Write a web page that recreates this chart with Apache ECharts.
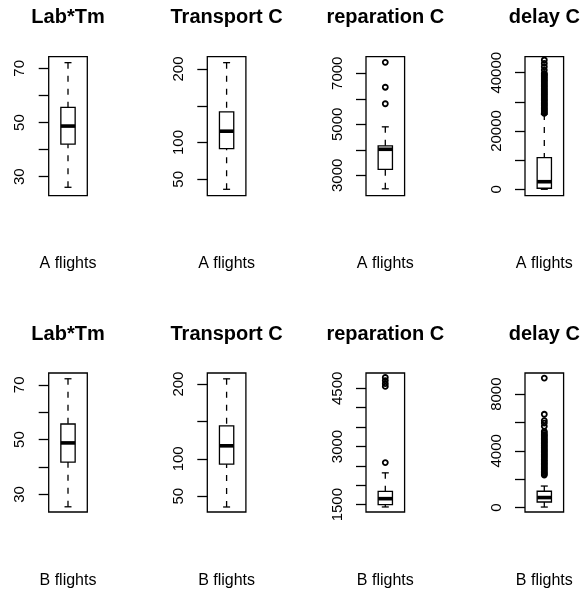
<!DOCTYPE html>
<html><head><meta charset="utf-8">
<script src="https://cdn.jsdelivr.net/npm/echarts@6/dist/echarts.min.js"></script>
<style>html,body{margin:0;padding:0;background:#fff}#c{width:581px;height:595px}</style>
</head><body><div id="c"></div>
<script>
// ---------------- data ----------------
const panelTitles = ['Lab*Tm', 'Transport C', 'reparation C', 'delay C'];
const groupNames = ['A flights', 'B flights'];

// [lower whisker, Q1, median, Q3, upper whisker]
const statsLabA   = [26.1, 42.0, 48.7, 55.6, 72.1];
const statsTransA = [36.4, 91.8, 115.4, 141.8, 208.6];
const statsRepA   = [2470, 3234, 4020, 4156, 4900];
const statsDelayA = [0, 350, 2600, 10900, 25800];
const statsLabB   = [25.5, 41.8, 48.8, 55.7, 72.2];
const statsTransB = [35.6, 92.9, 117.4, 144.0, 207.0];
const statsRepB   = [1440, 1500, 1654, 1840, 2320];
const statsDelayB = [40, 396, 708, 1154, 1520];

// outliers
const outLabA = [];
const outTransA = [];
const outRepA = [5805, 6453, 7430];
const outDelayA = [26050, 26480, 26870, 27330, 27720, 28190, 28640, 29010, 29470, 29900,
  30380, 30760, 31250, 31640, 32100, 32530, 32960, 33420, 33810, 34290, 34700, 35150,
  35560, 36030, 36440, 36910, 37300, 37780, 38170, 38650, 39040, 39520, 39760, 40900,
  42060, 43200, 44360];
const outLabB = [];
const outTransB = [];
const outRepB = [2585, 4550, 4620, 4700, 4780];
const outDelayB = [2300, 2370, 2470, 2560, 2660, 2740, 2850, 2930, 3040, 3110, 3220, 3300,
  3390, 3500, 3580, 3690, 3770, 3860, 3960, 4050, 4140, 4230, 4340, 4410, 4520, 4600,
  4700, 4790, 4880, 4980, 5070, 5150, 5260, 5370, 5730, 5960, 6130, 6580, 9130];

// axis ticks and labels
const ticksLab = [30, 40, 50, 60, 70];
const labelsLab = [30, 50, 70];
const ticksTrans = [50, 100, 150, 200];
const labelsTrans = [50, 100, 200];
const ticksRepA = [3000, 4000, 5000, 6000, 7000];
const labelsRepA = [3000, 5000, 7000];
const ticksDelayA = [0, 10000, 20000, 30000, 40000];
const labelsDelayA = [0, 20000, 40000];
const ticksRepB = [1500, 2000, 2500, 3000, 3500, 4000, 4500];
const labelsRepB = [1500, 3000, 4500];
const ticksDelayB = [0, 2000, 4000, 6000, 8000];
const labelsDelayB = [0, 4000, 8000];

// axis limits [min, max]
const limLabA = [23.0, 74.3], limTransA = [27.7, 216.7], limRepA = [2200, 7650], limDelayA = [-2200, 45500];
const limLabB = [23.6, 74.3], limTransB = [28.9, 214.8], limRepB = [1310, 4896], limDelayB = [-310, 9490];

// ---------------- layout / style ----------------
const PANEL_LEFT = [48.7, 207.3, 366, 525];
const PANEL_TOP = [56.7, 373];
const PANEL_W = 38.6, PANEL_H = 139;
const TITLE_Y = [17.5, 334];
const XLAB_Y = [263.8, 581];
const FONT = "'Liberation Sans', Arial, Helvetica, sans-serif";
const BOX_W = 14.3, CAP_W = 7, MED_LW = 3.6, LW = 1.3;

const rows = [
  { name: groupNames[0], stats: [statsLabA, statsTransA, statsRepA, statsDelayA],
    outs: [outLabA, outTransA, outRepA, outDelayA],
    ticks: [ticksLab, ticksTrans, ticksRepA, ticksDelayA],
    labels: [labelsLab, labelsTrans, labelsRepA, labelsDelayA],
    lims: [limLabA, limTransA, limRepA, limDelayA] },
  { name: groupNames[1], stats: [statsLabB, statsTransB, statsRepB, statsDelayB],
    outs: [outLabB, outTransB, outRepB, outDelayB],
    ticks: [ticksLab, ticksTrans, ticksRepB, ticksDelayB],
    labels: [labelsLab, labelsTrans, labelsRepB, labelsDelayB],
    lims: [limLabB, limTransB, limRepB, limDelayB] }
];

function renderBox(params, api) {
  const x = api.value(0);
  const pts = [1, 2, 3, 4, 5].map(k => api.coord([x, api.value(k)]));
  const cx = pts[0][0];
  const y = pts.map(p => p[1]);
  const solid = { stroke: '#000', lineWidth: LW, fill: null };
  const dash = { stroke: '#000', lineWidth: LW, lineDash: [6, 7], fill: null };
  return { type: 'group', children: [
    { type: 'line', shape: { x1: cx, y1: y[0], x2: cx, y2: y[1] }, style: dash },
    { type: 'line', shape: { x1: cx, y1: y[4], x2: cx, y2: y[3] }, style: dash },
    { type: 'line', shape: { x1: cx - CAP_W / 2, y1: y[0], x2: cx + CAP_W / 2, y2: y[0] }, style: solid },
    { type: 'line', shape: { x1: cx - CAP_W / 2, y1: y[4], x2: cx + CAP_W / 2, y2: y[4] }, style: solid },
    { type: 'rect', shape: { x: cx - BOX_W / 2, y: y[3], width: BOX_W, height: y[1] - y[3] },
      style: { fill: 'none', stroke: '#000', lineWidth: LW } },
    { type: 'line', shape: { x1: cx - BOX_W / 2, y1: y[2], x2: cx + BOX_W / 2, y2: y[2] },
      style: { stroke: '#000', lineWidth: MED_LW } }
  ]};
}

const grid = [], xAxis = [], yAxis = [], series = [], graphic = [];
rows.forEach((row, r) => {
  panelTitles.forEach((title, c) => {
    const i = r * 4 + c;
    grid.push({ left: PANEL_LEFT[c], top: PANEL_TOP[r], width: PANEL_W, height: PANEL_H,
      show: true, borderColor: '#000', borderWidth: LW, backgroundColor: 'transparent' });
    xAxis.push({ gridIndex: i, type: 'category', data: [row.name], show: false });
    yAxis.push({
      gridIndex: i, type: 'value', min: row.lims[c][0], max: row.lims[c][1],
      axisLine: { show: false }, splitLine: { show: false },
      axisTick: { show: true, inside: false, length: 10, customValues: row.ticks[c],
        lineStyle: { color: '#000', width: LW } },
      axisLabel: { customValues: row.labels[c], rotate: 90, margin: 21, color: '#000',
        fontSize: 15, fontFamily: FONT, showMinLabel: true, showMaxLabel: true,
        formatter: v => String(v) }
    });
    series.push({ type: 'custom', xAxisIndex: i, yAxisIndex: i, silent: true,
      renderItem: renderBox, encode: { x: 0, y: [1, 2, 3, 4, 5] },
      data: [[0].concat(row.stats[c])], clip: false });
    if (row.outs[c].length) {
      series.push({ type: 'scatter', xAxisIndex: i, yAxisIndex: i, silent: true,
        symbol: 'circle', symbolSize: 5,
        itemStyle: { color: 'rgba(0,0,0,0)', borderColor: '#000', borderWidth: 1.8, opacity: 1 },
        data: row.outs[c].map(v => [0, v]) });
    }
    const cx = PANEL_LEFT[c] + PANEL_W / 2;
    graphic.push({ type: 'text', x: cx, y: TITLE_Y[r], silent: true,
      style: { text: title, fill: '#000', font: 'bold 20px ' + FONT, textAlign: 'center', textVerticalAlign: 'middle' } });
    graphic.push({ type: 'text', x: cx, y: XLAB_Y[r], silent: true,
      style: { text: row.name, fill: '#000', font: '16px ' + FONT, textAlign: 'center', textVerticalAlign: 'middle' } });
  });
});

const chart = echarts.init(document.getElementById('c'), null, { renderer: 'canvas' });
chart.setOption({ animation: false, backgroundColor: '#fff', grid, xAxis, yAxis, series, graphic });
</script>
</body></html>
